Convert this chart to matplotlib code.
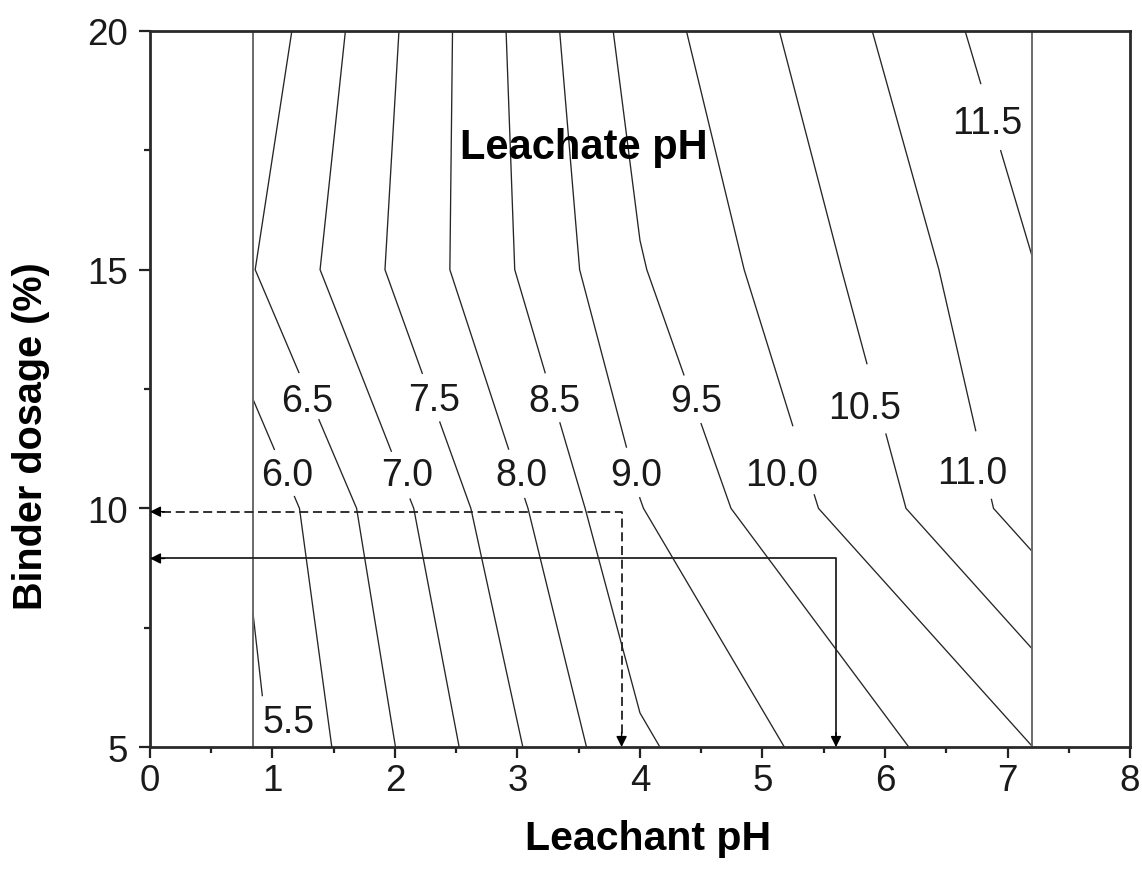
import numpy as np
import matplotlib
matplotlib.use("Agg")
import matplotlib.pyplot as plt
from matplotlib.ticker import MultipleLocator

# Grid of measurements: leachant pH (columns) x binder dosage (rows)
leachant_ph = [0.84, 4.0, 7.2]
binder_dosage = [5, 10, 15, 20]

# Leachate pH at each grid node, one list per binder dosage
leachate_ph_5 = [5.38, 8.42, 9.995]
leachate_ph_10 = [5.592, 8.98, 11.22]
leachate_ph_15 = [6.482, 9.465, 11.478]
leachate_ph_20 = [6.136, 9.75, 11.86]

contour_levels = [5.5, 6.0, 6.5, 7.0, 7.5, 8.0, 8.5, 9.0, 9.5, 10.0, 10.5, 11.0, 11.5]

# Where each contour value is written (leachant pH, binder dosage)
label_x = [1.13, 1.12, 1.285, 2.10, 2.316, 3.036, 3.298, 3.969, 4.46, 5.155, 5.835, 6.71, 6.833]
label_y = [5.61, 10.78, 12.33, 10.78, 12.35, 10.78, 12.33, 10.78, 12.33, 10.78, 12.19, 10.82, 18.16]

# Two read-off examples: (leachant pH, binder dosage)
example_dashed = (3.85, 9.93)
example_solid = (5.6, 8.95)

plt.rcParams["font.family"] = ["Liberation Sans", "DejaVu Sans"]

fig = plt.figure(figsize=(11.42, 8.79), dpi=100)
ax = fig.add_axes([0.1313, 0.149, 0.8582, 0.8146])

X, Y = np.meshgrid(leachant_ph, binder_dosage)
Z = np.array([leachate_ph_5, leachate_ph_10, leachate_ph_15, leachate_ph_20])

cs = ax.contour(X, Y, Z, levels=contour_levels, colors="#262626", linewidths=0.95)
positions = list(zip(label_x, label_y))
texts = ax.clabel(cs, levels=contour_levels, manual=positions, inline=True,
                  inline_spacing=0, fmt="%.1f", fontsize=27, colors="#1a1a1a")
for t, (px, py) in zip(texts, positions):
    t.set_rotation(0)
    t.set_position((px, py))
    t.set_verticalalignment("center_baseline")
    t.set_horizontalalignment("center")

# Edges of the measured region
for xb in (leachant_ph[0], leachant_ph[-1]):
    ax.plot([xb, xb], [binder_dosage[0], binder_dosage[-1]], color="#6a6a6a", lw=1.4, zorder=2)

# Read-off guides with arrowheads on the axes
arrow_kw = dict(arrowstyle="-|>", color="black", lw=1.0, mutation_scale=16, shrinkA=0, shrinkB=0)
for (ex, ey), ls in ((example_dashed, (0, (5, 2.6))), (example_solid, "-")):
    ax.plot([0.1, ex, ex], [ey, ey, 5.25], color="#222222", lw=1.3, linestyle=ls, zorder=3)
    ax.annotate("", xy=(0, ey), xytext=(0.12, ey), arrowprops=arrow_kw, zorder=4)
    ax.annotate("", xy=(ex, 5), xytext=(ex, 5.3), arrowprops=arrow_kw, zorder=4)

ax.text(3.54, 17.66, "Leachate pH", fontsize=30, fontweight="bold", ha="center", va="center_baseline")

ax.set_xlim(0, 8)
ax.set_ylim(5, 20)
ax.xaxis.set_major_locator(MultipleLocator(1))
ax.xaxis.set_minor_locator(MultipleLocator(0.5))
ax.yaxis.set_major_locator(MultipleLocator(5))
ax.yaxis.set_minor_locator(MultipleLocator(2.5))
ax.tick_params(which="both", direction="out", width=1.6, colors="#222222", labelcolor="#1a1a1a")
ax.tick_params(which="major", length=8, labelsize=26.5)
ax.tick_params(which="minor", length=4.5)
ax.tick_params(axis="y", which="major", pad=8)
ax.tick_params(axis="x", which="major", pad=3.5)
for sp in ax.spines.values():
    sp.set_linewidth(2.0)
    sp.set_color("#2a2a2a")

ax.set_xlabel("Leachant pH", fontsize=29.5, fontweight="bold")
ax.set_ylabel("Binder dosage (%)", fontsize=28.5, fontweight="bold")
ax.xaxis.set_label_coords(0.508, -0.1006)
ax.yaxis.set_label_coords(-0.102, 0.436)

fig.savefig("out.png", dpi=100)
